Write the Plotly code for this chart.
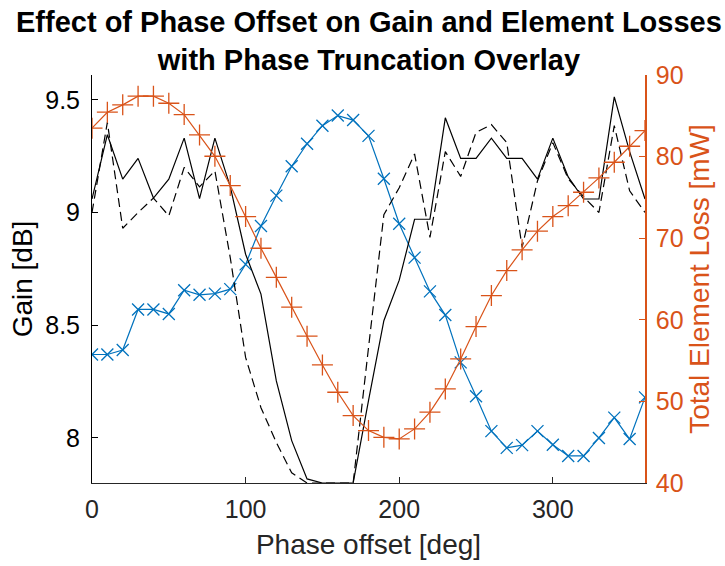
import plotly.graph_objects as go

# Phase offset sweep (degrees)
phase = list(range(0, 361, 10))

# Gain vs phase offset [dB]
gain = [8.37, 8.37, 8.39, 8.57, 8.57, 8.55, 8.655, 8.635, 8.64, 8.66,
        8.77, 8.94, 9.075, 9.205, 9.305, 9.385, 9.43, 9.41, 9.34, 9.15,
        8.95, 8.80, 8.65, 8.545, 8.335, 8.185, 8.03, 7.956, 7.968, 8.03,
        7.97, 7.92, 7.92, 8.0, 8.09, 7.995, 8.18]

# Gain with phase truncation (solid) [dB]
gain_trunc = [9.06, 9.345, 9.148, 9.24, 9.064, 9.148, 9.33, 9.062, 9.33, 9.115,
              8.815, 8.638, 8.253, 7.988, 7.818, 7.80, 7.80, 7.80, 8.165, 8.52,
              8.70, 8.97, 8.97, 9.42, 9.24, 9.24, 9.33, 9.24, 9.24, 9.148,
              9.33, 9.158, 9.06, 9.06, 9.513, 9.27, 9.06]

# Gain with phase truncation (dashed) [dB]
gain_trunc2 = [9.0, 9.40, 8.93, 9.0, 9.064, 8.985, 9.2, 9.114, 9.185, 8.80,
               8.357, 8.134, 7.98, 7.845, 7.80, 7.80, 7.80, 7.80, 8.40, 8.99,
               9.11, 9.26, 8.89, 9.27, 9.16, 9.355, 9.39, 9.31, 8.845, 9.14,
               9.31, 9.15, 9.07, 9.0, 9.385, 9.096, 9.0]

# Total element loss [mW]
loss = [83.48, 85.44, 86.34, 87.4, 87.4, 86.54, 85.15, 82.66, 80.04, 76.45,
        72.65, 68.77, 65.2, 61.55, 57.99, 54.47, 51.12, 48.26, 46.42, 45.6,
        45.4, 46.63, 48.68, 51.53, 55.2, 59.17, 62.97, 66.03, 68.57, 70.86,
        72.65, 73.99, 75.63, 77.39, 79.31, 81.27, 83.19]

BLUE = "#0072BD"
ORANGE = "#D95319"
FONT = "Liberation Sans, Arial, Helvetica, sans-serif"
TICK_SIZE = 25
LABEL_SIZE = 28

fig = go.Figure()

fig.add_trace(go.Scatter(
    x=phase, y=gain, mode="lines+markers",
    line=dict(color=BLUE, width=1.2),
    marker=dict(symbol="x-thin", size=12, line=dict(color=BLUE, width=1.3)),
    showlegend=False))

fig.add_trace(go.Scatter(
    x=phase, y=gain_trunc, mode="lines",
    line=dict(color="black", width=1.2),
    showlegend=False))

fig.add_trace(go.Scatter(
    x=phase, y=gain_trunc2, mode="lines",
    line=dict(color="black", width=1.2, dash="9px,5px"),
    showlegend=False))

fig.add_trace(go.Scatter(
    x=phase, y=loss, mode="lines+markers", yaxis="y2",
    line=dict(color=ORANGE, width=1.2),
    marker=dict(symbol="cross-thin", size=15, line=dict(color=ORANGE, width=1.3)),
    showlegend=False))

fig.update_layout(
    width=725, height=566,
    margin=dict(l=92, r=80, t=75, b=83),
    paper_bgcolor="white", plot_bgcolor="white",
    font=dict(family=FONT, size=TICK_SIZE, color="black"),
    xaxis=dict(
        range=[0, 360], tickvals=[0, 100, 200, 300],
        ticks="inside", ticklen=6, tickcolor="#262626",
        ticklabelstandoff=4,
        showline=True, linecolor="#262626", linewidth=1,
        showgrid=False, zeroline=False,
        tickfont=dict(size=TICK_SIZE, color="#262626"),
        title=dict(text="Phase offset [deg]", font=dict(size=LABEL_SIZE, color="#262626"), standoff=12)),
    yaxis=dict(
        range=[7.8, 9.61], tickvals=[8, 8.5, 9, 9.5], ticktext=["8", "8.5", "9", "9.5"],
        ticks="inside", ticklen=6, tickcolor="black",
        ticklabelstandoff=6,
        showline=True, linecolor="black", linewidth=1,
        showgrid=False, zeroline=False,
        tickfont=dict(size=TICK_SIZE, color="black"),
        title=dict(text="Gain [dB]", font=dict(size=LABEL_SIZE, color="black"), standoff=4)),
    yaxis2=dict(
        range=[40, 90], tickvals=[40, 50, 60, 70, 80, 90],
        overlaying="y", side="right",
        ticks="inside", ticklen=6, tickcolor=ORANGE,
        ticklabelstandoff=4,
        showline=True, linecolor=ORANGE, linewidth=1.5,
        showgrid=False, zeroline=False,
        tickfont=dict(size=TICK_SIZE, color=ORANGE),
        title=dict(text="Total Element Loss [mW]", font=dict(size=LABEL_SIZE, color=ORANGE), standoff=6)),
    annotations=[dict(
        text="<b>Effect of Phase Offset on Gain and Element Losses<br>with Phase Truncation Overlay</b>",
        xref="paper", yref="paper", x=0.5, y=1 + (75 - 4) / 408,
        xanchor="center", yanchor="top", showarrow=False,
        font=dict(family=FONT, size=29, color="black"))],
)

fig.write_html("out.html")
